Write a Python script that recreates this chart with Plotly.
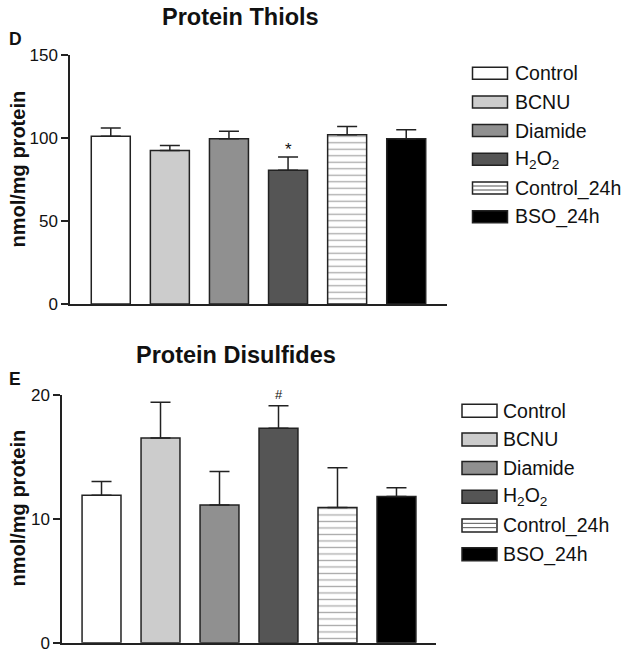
import plotly.graph_objects as go

# ---- data ----
categories = ["Control", "BCNU", "Diamide", "H2O2", "Control_24h", "BSO_24h"]
legend_labels = ["Control", "BCNU", "Diamide", "H<sub>2</sub>O<sub>2</sub>", "Control_24h", "BSO_24h"]
thiols = [101, 92.5, 99.5, 80.5, 102, 99.5]
thiols_err = [5, 3, 4.5, 8, 5, 5.5]
disulfides = [11.9, 16.5, 11.1, 17.3, 10.9, 11.8]
disulfides_err = [1.1, 2.9, 2.7, 1.8, 3.2, 0.7]
thiols_ticks = [0, 50, 100, 150]
disulfides_ticks = [0, 10, 20]

# ---- styles ----
bar_colors = ["#ffffff", "#cccccc", "#909090", "#555555", "#ffffff", "#000000"]
bar_patterns = ["", "", "", "", "-", ""]
FONT = "Arial, Liberation Sans, sans-serif"
W, H = 629, 655
LINE = "#222222"


def px(x):
    return x / W


def py(y):
    return 1 - y / H


fig = go.Figure()

for xa, ya, vals, errs in [("x", "y", thiols, thiols_err), ("x2", "y2", disulfides, disulfides_err)]:
    for i, cat in enumerate(categories):
        marker = dict(color=bar_colors[i], line=dict(color=LINE, width=1.5))
        if bar_patterns[i]:
            marker["pattern"] = dict(shape=bar_patterns[i], fgcolor="#555555", bgcolor="#ffffff",
                                     size=6.5, solidity=0.2, fillmode="overlay")
        fig.add_trace(go.Bar(
            x=[cat], y=[vals[i]], xaxis=xa, yaxis=ya, width=0.66, marker=marker,
            error_y=dict(type="data", symmetric=False, array=[errs[i]], arrayminus=[0],
                         color=LINE, thickness=1.5, width=10),
            showlegend=False, hoverinfo="skip",
        ))

axis_common = dict(showline=True, linecolor=LINE, linewidth=1.5, showgrid=False, zeroline=False,
                   automargin=False)

fig.update_layout(
    template="none",
    width=W, height=H, margin=dict(l=0, r=0, t=0, b=0, autoexpand=False),
    paper_bgcolor="white", plot_bgcolor="white",
    barmode="overlay", font=dict(family=FONT, color="#111111"),
    xaxis=dict(domain=[px(70), px(447)], anchor="y", range=[-0.69, 5.69],
               categoryorder="array", categoryarray=categories,
               showticklabels=False, ticks="", **axis_common),
    yaxis=dict(domain=[py(304), py(55)], anchor="x", range=[0, 150], tickvals=thiols_ticks,
               ticks="outside", ticklen=7, tickwidth=1.5, tickcolor=LINE,
               tickfont=dict(size=17, family=FONT, color="#111111"), **axis_common),
    xaxis2=dict(domain=[px(62), px(436)], anchor="y2", range=[-0.67, 5.67],
                categoryorder="array", categoryarray=categories,
                showticklabels=False, ticks="", **axis_common),
    yaxis2=dict(domain=[py(642.7), py(394.7)], anchor="x2", range=[0, 20], tickvals=disulfides_ticks,
                ticks="outside", ticklen=7, tickwidth=1.5, tickcolor=LINE,
                tickfont=dict(size=17, family=FONT, color="#111111"), **axis_common),
)

ann = []
shapes = []

# titles, panel letters, y-axis titles
for text, x, y, size in [("Protein Thiols", 241, 17, 23.5), ("Protein Disulfides", 235.7, 355, 23.5),
                         ("D", 15.5, 39.5, 17.5), ("E", 14.5, 378.5, 17.5)]:
    ann.append(dict(text="<b>%s</b>" % text, x=px(x), y=py(y), xref="paper", yref="paper",
                    xanchor="center", yanchor="middle", showarrow=False,
                    font=dict(size=size, family=FONT, color="#111111")))
for y in [169, 508]:
    ann.append(dict(text="<b>nmol/mg protein</b>", x=px(17.5), y=py(y), xref="paper", yref="paper",
                    xanchor="center", yanchor="middle", showarrow=False, textangle=-90,
                    font=dict(size=20, family=FONT, color="#111111")))

# significance marks
ann.append(dict(text="*", x=categories[3], y=thiols[3] + thiols_err[3], xref="x", yref="y",
                yanchor="bottom", yshift=-4, showarrow=False, font=dict(size=17, family=FONT)))
ann.append(dict(text="#", x=categories[3], y=disulfides[3] + disulfides_err[3], xref="x2", yref="y2",
                yanchor="bottom", yshift=2, showarrow=False, font=dict(size=13, family=FONT)))

# manual legends
for box_x0, box_x1, text_x, row0, box_h in [(472.5, 507.5, 513, 73.2, 12), (462, 497, 501, 410.7, 13)]:
    step = 28.7
    for i, label in enumerate(legend_labels):
        cy = row0 + i * step
        shapes.append(dict(type="rect", xref="paper", yref="paper",
                           x0=px(box_x0), x1=px(box_x1), y0=py(cy + box_h / 2), y1=py(cy - box_h / 2),
                           fillcolor=bar_colors[i], line=dict(color=LINE, width=1.5)))
        if bar_patterns[i] == "-":
            for k in (1, 2):
                yy = cy - box_h / 2 + k * box_h / 3
                shapes.append(dict(type="line", xref="paper", yref="paper",
                                   x0=px(box_x0), x1=px(box_x1), y0=py(yy), y1=py(yy),
                                   line=dict(color="#555555", width=1)))
        ann.append(dict(text=label, x=px(text_x), y=py(cy), xref="paper", yref="paper",
                        xanchor="left", yanchor="middle", showarrow=False,
                        font=dict(size=19.5, family=FONT, color="#111111")))

fig.update_layout(annotations=ann, shapes=shapes)
fig.write_html("out.html", config={"displayModeBar": False},
               post_script="document.body.style.margin='0';document.body.style.overflow='hidden';")
